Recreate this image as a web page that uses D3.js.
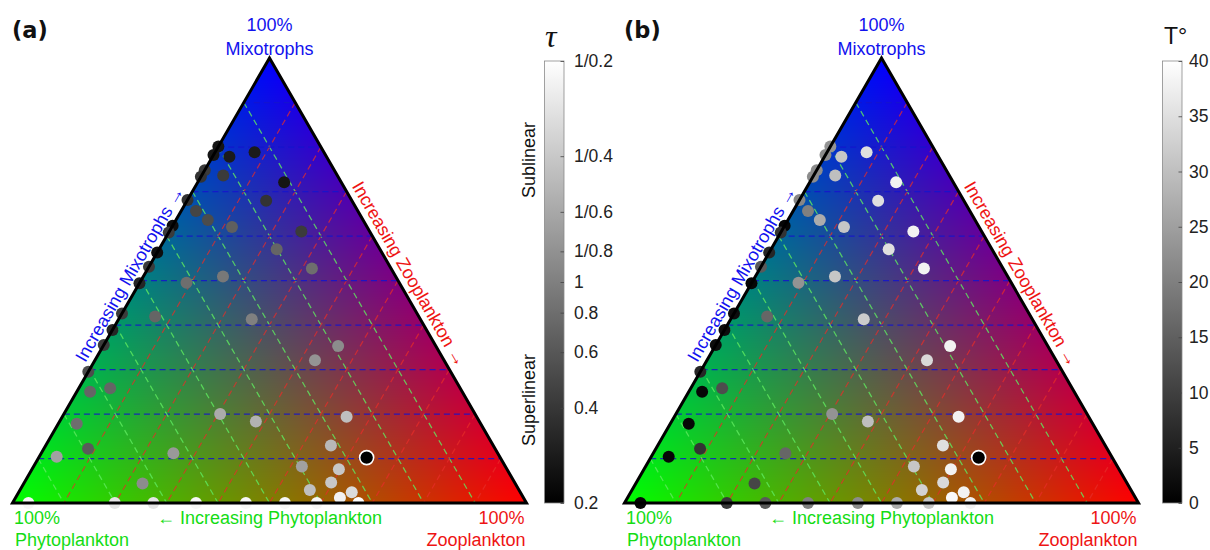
<!DOCTYPE html>
<html>
<head>
<meta charset="utf-8">
<script src="https://cdn.jsdelivr.net/npm/d3@7"></script>
<style>
  body { margin: 0; background: #fff; }
  svg { display: block; font-family: "Liberation Sans", Arial, sans-serif; }
</style>
</head>
<body>
<svg id="chart" width="1210" height="550"></svg>
<script>
// ---- Community composition of each sample (percent); phytoplankton = 100 - mixotrophs - zooplankton
const mixotrophs = [
  80.1, 78.2, 74.8, 73.3, 68.1, 62.3, 60.8, 56.3, 53.1, 49.4, 42.6, 38.9, 35.5, 29.5,
  77.8, 78.8, 73.6, 72.1, 67.9, 65.6, 63.6, 62.0, 61.0, 57.0, 52.7, 50.9, 49.5, 41.9,
  41.3, 35.3, 32.1, 25.0, 25.8, 20.0, 18.3, 19.4, 17.8, 12.9, 12.2, 10.4, 11.2,
  8.2, 7.6, 4.4, 4.6, 2.9, 2.4, 1.2,
  0, 0, 0, 0, 0, 0, 0, 0
];
const zooplankton = [
  0, 0, 0, 0, 0, 0, 0, 0, 0, 0, 0, 0, 0, 0,
  3.3, 7.7, 4.2, 16.8, 15.4, 2.9, 6.2, 11.7, 25.7, 22.9, 31.9, 15.5, 9.1, 6.8,
  25.9, 45.7, 42.8, 2.6, 6.1, 30.4, 38.2, 55.3, 3.6, 55.5, 8.6, 3.4, 25.7,
  52.2, 59.7, 23.1, 59.7, 56.4, 64.8, 63.1,
  3.1, 19.9, 27.4, 35.7, 45.4, 53.0, 59.2, 67.3
];
// scaling exponent tau of each sample, panel (a)
const tauValues = [
  0.26, 0.26, 0.42, 0.38, 0.38, 0.24, 0.42, 0.24, 0.42, 0.32, 0.42, 0.32, 0.42, 0.52,
  0.28, 0.28, 0.42, 0.26, 0.38, 0.48, 0.52, 0.66, 0.42, 0.72, 0.80, 0.91, 0.80, 0.72,
  1.00, 1.17, 1.29, 0.72, 0.72, 1.73, 1.90, 2.24, 0.80, 2.03, 0.62, 1.52, 1.38,
  1.52, 2.47, 1.17, 2.47, 2.24, 3.19, 4.26,
  4.5, 3.62, 3.62, 4.5, 4.5, 4.5, 4.5, 5.0
];
// temperature of each sample, panel (b)
const temperature = [
  23, 22, 22, 22, 21, 1, 8, 6, 14, 1, 2, 2, 2, 6,
  31, 35, 30, 38, 35, 20, 27, 31, 38, 35, 38, 31, 23, 16,
  32, 38, 34, 1, 12, 23, 30, 38, 1, 35, 8, 1, 16,
  31, 38, 11, 34, 33, 38, 39,
  1, 9, 14, 20, 22, 27, 31, 38
];
// highlighted reference community
const highlightMixotrophs = 10.2;
const highlightZooplankton = 63.8;

// colour-bar ticks
const tauTicks = [0.2, 0.4, 0.6, 0.8, 1, 1 / 0.8, 1 / 0.6, 1 / 0.4, 1 / 0.2];
const tauTickLabels = ["0.2", "0.4", "0.6", "0.8", "1", "1/0.8", "1/0.6", "1/0.4", "1/0.2"];
const tempTicks = [0, 5, 10, 15, 20, 25, 30, 35, 40];
const tempTickLabels = ["0", "5", "10", "15", "20", "25", "30", "35", "40"];
const gridLevels = [10, 20, 30, 40, 50, 60, 70, 80, 90];

// ---- layout
const SIDE = 514, BASE_Y = 503, TOP_Y = 58;
const BAR_TOP = 61, BAR_BOTTOM = 503, BAR_W = 19.5;
const BLUE = "#1212ee", GREEN = "#14dc14", RED = "#ee1414";
const SANS = "'Liberation Sans', Arial, sans-serif";

const svg = d3.select("#chart");
const defs = svg.append("defs");
const shade = d3.interpolateRgb("#000000", "#ffffff");

const panels = [
  {
    key: "a", label: "(a)", x0: 12.5, barX: 544.5, pad: 10, values: tauValues,
    scale: d3.scaleLog().domain([0.2, 5]).range([BAR_BOTTOM, BAR_TOP]),
    ticks: tauTicks, tickLabels: tauTickLabels
  },
  {
    key: "b", label: "(b)", x0: 624.5, barX: 1162.5, pad: 7, values: temperature,
    scale: d3.scaleLinear().domain([0, 40]).range([BAR_BOTTOM, BAR_TOP]),
    ticks: tempTicks, tickLabels: tempTickLabels
  }
];

// vertical gray ramp shared by both colour bars
const ramp = defs.append("linearGradient").attr("id", "grayRamp")
  .attr("x1", 0).attr("y1", 1).attr("x2", 0).attr("y2", 0);
ramp.append("stop").attr("offset", 0).attr("stop-color", "#000");
ramp.append("stop").attr("offset", 1).attr("stop-color", "#fff");

panels.forEach(panel => {
  const xs = d3.scaleLinear().domain([0, 100]).range([panel.x0, panel.x0 + SIDE]);
  const ys = d3.scaleLinear().domain([0, 100]).range([BASE_Y, TOP_Y]);
  // ternary (zoo, mixo) -> screen; phytoplankton is the remainder
  const pos = (z, m) => [xs(z + m / 2), ys(m)];
  const vP = pos(0, 0), vZ = pos(100, 0), vM = pos(0, 100);
  const g = svg.append("g");

  // --- barycentric RGB fill: green = phytoplankton, red = zooplankton, blue = mixotrophs
  const bx = Math.floor(vP[0]) - 1, by = Math.floor(vM[1]) - 1;
  const w = Math.ceil(vZ[0]) - bx + 2, h = Math.ceil(vP[1]) - by + 2;
  const canvas = document.createElement("canvas");
  canvas.width = w; canvas.height = h;
  const ctx = canvas.getContext("2d");
  const img = ctx.createImageData(w, h);
  const clamp = v => Math.max(0, Math.min(1, v));
  for (let j = 0; j < h; j++) {
    for (let i = 0; i < w; i++) {
      const m = clamp(ys.invert(by + j + 0.5) / 100);
      const z = clamp(xs.invert(bx + i + 0.5) / 100 - m / 2);
      const p = clamp(1 - m - z);
      const k = (j * w + i) * 4;
      img.data[k] = 255 * z;
      img.data[k + 1] = 255 * p;
      img.data[k + 2] = 255 * m;
      img.data[k + 3] = 255;
    }
  }
  ctx.putImageData(img, 0, 0);
  const tri = [vP, vZ, vM];
  defs.append("clipPath").attr("id", "clip-" + panel.key)
    .append("polygon").attr("points", tri.map(d => d.join(",")).join(" "));
  g.append("image")
    .attr("href", canvas.toDataURL())
    .attr("x", bx).attr("y", by).attr("width", w).attr("height", h)
    .attr("clip-path", `url(#clip-${panel.key})`);

  // --- dashed ternary grid
  const grid = g.append("g").attr("fill", "none").attr("stroke-width", 1.25)
    .attr("stroke-dasharray", "6,4");
  const gridLine = (a, b, color) => grid.append("line")
    .attr("x1", a[0]).attr("y1", a[1]).attr("x2", b[0]).attr("y2", b[1])
    .attr("stroke", color);
  gridLevels.forEach(k => {
    gridLine(pos(0, k), pos(100 - k, k), "rgba(20,20,205,0.85)");        // constant mixotrophs
    gridLine(pos(0, 100 - k), pos(100 - k, 0), "rgba(95,235,95,0.8)");   // constant phytoplankton
    gridLine(pos(k, 100 - k), pos(k, 0), "rgba(230,45,40,0.72)");        // constant zooplankton
  });

  // --- samples
  const color = v => shade((panel.scale(v) - BAR_BOTTOM) / (BAR_TOP - BAR_BOTTOM));
  g.append("g").selectAll("circle")
    .data(panel.values.map((v, i) => ({ v, m: mixotrophs[i], z: zooplankton[i] })))
    .join("circle")
    .attr("cx", d => pos(d.z, d.m)[0])
    .attr("cy", d => pos(d.z, d.m)[1])
    .attr("r", 6)
    .attr("fill", d => color(d.v));
  const hp = pos(highlightZooplankton, highlightMixotrophs);
  g.append("circle").attr("cx", hp[0]).attr("cy", hp[1]).attr("r", 7)
    .attr("fill", "#000").attr("stroke", "#fff").attr("stroke-width", 1.6);

  // --- outline
  g.append("polygon").attr("points", tri.map(d => d.join(",")).join(" "))
    .attr("fill", "none").attr("stroke", "#000").attr("stroke-width", 3)
    .attr("stroke-linejoin", "miter");

  // --- vertex labels
  const lab = (x, y, txt, fill, anchor) => g.append("text")
    .attr("x", x).attr("y", y).attr("fill", fill).attr("font-size", 18)
    .attr("text-anchor", anchor).text(txt);
  lab(vM[0], 30.5, "100%", BLUE, "middle");
  lab(vM[0], 54.5, "Mixotrophs", BLUE, "middle");
  lab(vP[0] + 1.5, 524, "100%", GREEN, "start");
  lab(vP[0] + 2.5, 545.5, "Phytoplankton", GREEN, "start");
  lab(vZ[0] - 2, 524, "100%", RED, "end");
  lab(vZ[0] - 1, 545.5, "Zooplankton", RED, "end");
  lab(xs(50), 524, "\u2190 Increasing Phytoplankton", GREEN, "middle");

  // --- edge labels, rotated along the sloping sides
  const off = 7;
  const midL = [(vP[0] + vM[0]) / 2 - off * 0.866, (vP[1] + vM[1]) / 2 - off * 0.5];
  g.append("text").attr("transform", `translate(${midL[0]},${midL[1]}) rotate(-60)`)
    .attr("text-anchor", "middle").attr("font-size", 18).attr("fill", BLUE)
    .text("Increasing Mixotrophs \u2192");
  const midR = [(vZ[0] + vM[0]) / 2 + off * 0.866, (vZ[1] + vM[1]) / 2 - off * 0.5];
  g.append("text").attr("transform", `translate(${midR[0]},${midR[1]}) rotate(60)`)
    .attr("text-anchor", "middle").attr("font-size", 18).attr("fill", RED)
    .text("Increasing Zooplankton \u2192");

  // --- panel letter
  svg.append("text").attr("x", panel.x0 - 0.5).attr("y", 37.5)
    .style("font-family", "'DejaVu Sans', Verdana, sans-serif").style("font-weight", "bold")
    .attr("font-size", 22.5).attr("fill", "#111").text(panel.label);

  // --- colour bar
  const bar = svg.append("g");
  bar.append("rect").attr("x", panel.barX).attr("y", BAR_TOP)
    .attr("width", BAR_W).attr("height", BAR_BOTTOM - BAR_TOP)
    .attr("fill", "url(#grayRamp)").attr("stroke", "#8a8a8a").attr("stroke-width", 0.8);
  const axis = d3.axisRight(panel.scale)
    .tickValues(panel.ticks)
    .tickFormat((d, i) => panel.tickLabels[i])
    .tickSize(-3.5).tickPadding(panel.pad);
  const ax = bar.append("g").attr("transform", `translate(${panel.barX + BAR_W},0)`).call(axis);
  ax.select(".domain").remove();
  ax.selectAll(".tick line").attr("stroke", "#444").attr("stroke-width", 0.8);
  ax.selectAll(".tick text").attr("fill", "#222")
    .style("font-size", "17.5px").style("font-family", SANS);
});

// colour-bar titles
svg.append("text").attr("x", 545).attr("y", 46.5)
  .style("font-family", "'Liberation Serif', 'DejaVu Serif', serif").style("font-style", "italic")
  .attr("font-size", 32).attr("fill", "#111").text("\u03c4");
svg.append("text").attr("x", 1164).attr("y", 43.5)
  .attr("font-size", 23).attr("fill", "#111").text("T\u00b0");

// regime labels beside the tau colour bar
svg.append("text").attr("transform", "translate(535,160) rotate(-90)")
  .attr("text-anchor", "middle").attr("font-size", 18).attr("fill", "#111").text("Sublinear");
svg.append("text").attr("transform", "translate(535,400) rotate(-90)")
  .attr("text-anchor", "middle").attr("font-size", 18).attr("fill", "#111").text("Superlinear");
</script>
</body>
</html>
